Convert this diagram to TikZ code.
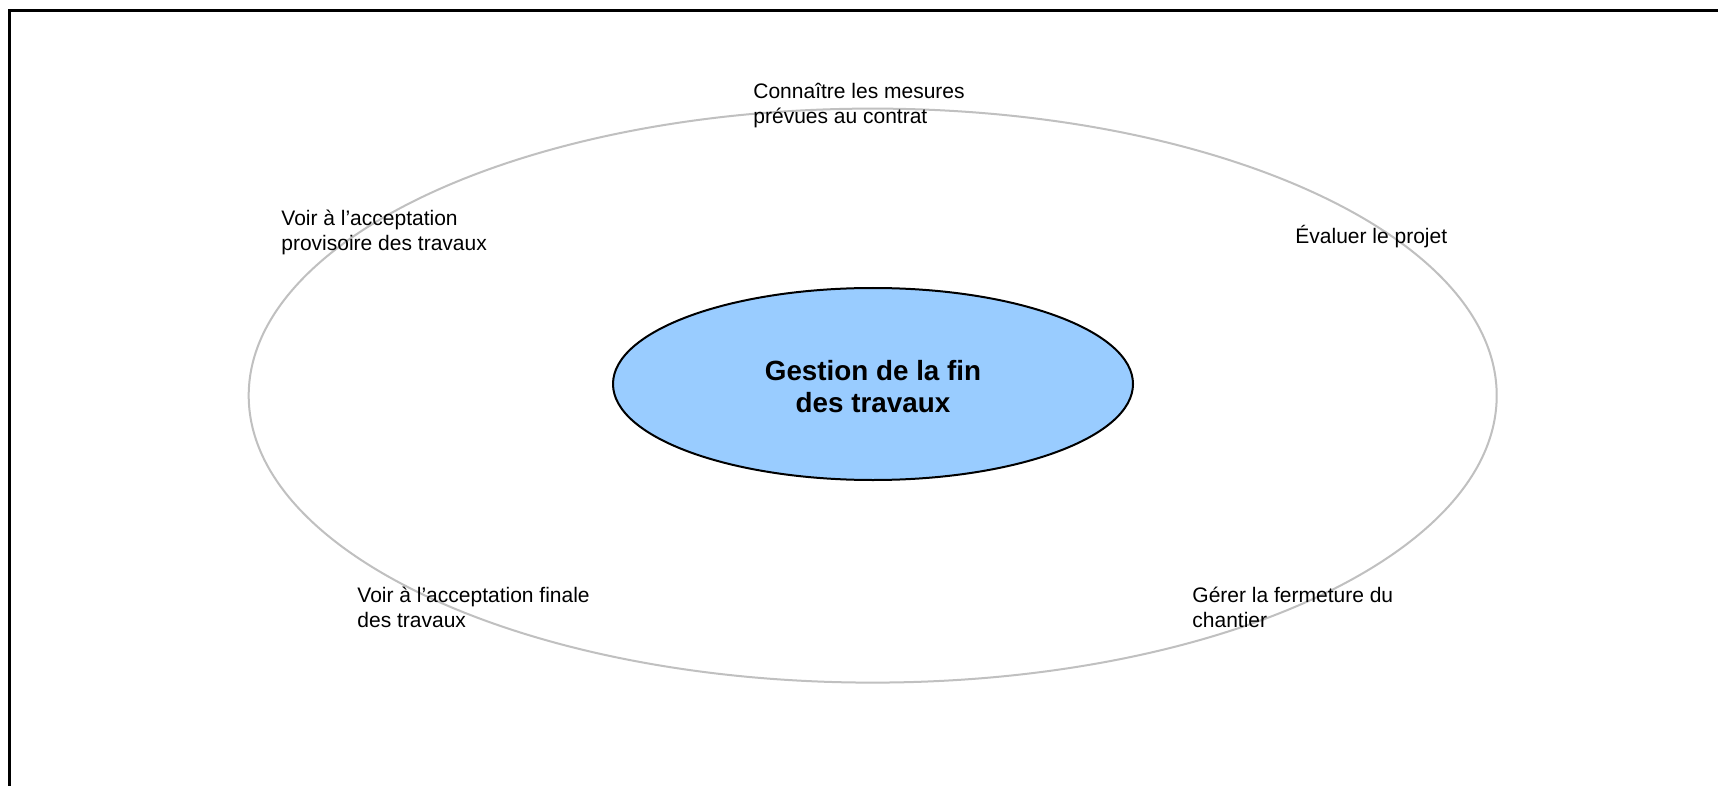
\documentclass[tikz,border=0pt]{standalone}
\usepackage{fontspec}
\setmainfont{Liberation Sans}
\usetikzlibrary{shapes.geometric}
\definecolor{ringgray}{RGB}{192,192,192}
\definecolor{coreblue}{RGB}{153,204,255}
\tikzset{
  ring/.style={ellipse, draw=ringgray, line width=1pt, inner sep=0pt},
  core/.style={ellipse, draw=black, line width=1pt, fill=coreblue, inner sep=0pt},
  title/.style={anchor=base, align=center, inner sep=0pt,
    font={\fontsize{13.9}{16}\selectfont\bfseries}},
  % multi-line labels are anchored on the baseline of their last line
  task/.style={anchor=base west, inner sep=0pt, align=left,
    font={\fontsize{10.5}{12.5}\selectfont}},
  frame/.style={draw=black, line width=1.3pt}
}
\begin{document}
\begin{tikzpicture}[x=0.5pt, y=-0.5pt]
  \useasboundingbox (0,0) rectangle (1718,786);
  \clip (0,0) rectangle (1718,786);
  \fill[white] (0,0) rectangle (1718,786);
  % page frame (runs past the right and bottom edges)
  \draw[frame] (9.5,10.5) rectangle (1760,830);

  % outer ring of tasks and central theme
  \node[ring, minimum width=624pt, minimum height=287pt] (ring) at (872.7,395.6) {};
  \node[core, minimum width=260pt, minimum height=96pt] (core) at (873,384) {};
  \node[title] (titre) at (873,412) {Gestion de la fin\\des travaux};

  % tasks around the ring
  \node[task] (mesures) at (753,124) {Connaître les mesures\\prévues au contrat};
  \node[task] (provisoire) at (281,250) {Voir à l’acceptation\\provisoire des travaux};
  \node[task] (evaluer) at (1295,243) {Évaluer le projet};
  \node[task] (finale) at (357,627) {Voir à l’acceptation finale\\des travaux};
  \node[task] (chantier) at (1192,627) {Gérer la fermeture du\\chantier};
\end{tikzpicture}
\end{document}
